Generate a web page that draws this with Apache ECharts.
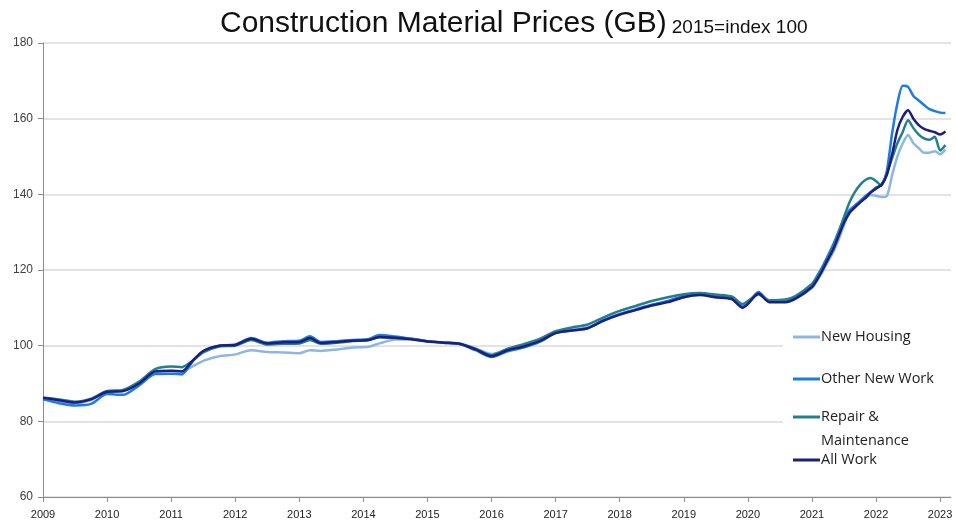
<!DOCTYPE html>
<html style="height: 100%">
<head>
<meta charset="utf-8">
<script src="https://cdn.jsdelivr.net/npm/echarts@6/dist/echarts.min.js"></script>
</head>
<body style="height: 100%; margin: 0; background: #fff">
<div id="container" style="width: 956px; height: 528px"></div>
<script type="text/javascript">
// month of each reading (quarterly early on, monthly from 2021)
var dates = [
  '2009-01','2009-04','2009-07','2009-10',
  '2010-01','2010-04','2010-07','2010-10',
  '2011-01','2011-03','2011-05','2011-07','2011-10',
  '2012-01','2012-04','2012-07','2012-10',
  '2013-01','2013-03','2013-05','2013-08','2013-11',
  '2014-02','2014-04','2014-07','2014-10',
  '2015-01','2015-04','2015-07','2015-10',
  '2016-01','2016-04','2016-07','2016-10',
  '2017-01','2017-04','2017-07','2017-10',
  '2018-01','2018-04','2018-07','2018-10',
  '2019-01','2019-04','2019-07','2019-10','2019-12',
  '2020-01','2020-03','2020-05','2020-08','2020-10',
  '2021-01','2021-02','2021-03','2021-04','2021-05','2021-06',
  '2021-07','2021-08','2021-09','2021-10','2021-11','2021-12',
  '2022-01','2022-02','2022-03','2022-04','2022-05','2022-06',
  '2022-07','2022-08','2022-09','2022-10','2022-11','2022-12',
  '2023-01','2023-02'
];

var newHousing = [
  86.0,85.4,84.8,85.6, 87.9,88.0,90.0,93.0, 93.3,93.2,94.5,96.0,97.2,
  97.7,98.8,98.3,98.2, 98.0,98.8,98.6,99.0,99.5, 99.7,100.6,101.6,101.6,
  101.1,100.8,100.6,99.3, 97.8,99.0,100.0,101.3, 103.5,104.2,104.8,106.6,
  108.2,109.5,110.7,111.6, 112.8,113.5,112.8,112.4,110.3, 111.2,113.9,111.6,111.6,112.4,
  115.2,117.2,119.6,122.2,124.8,128,131.8,135.2,137,138.2,139.2,139.8,
  139.6,139.3,139.5,145,150,153.5,155.7,153.5,152.2,151,151,151.4,
  150.6,151.8
];
var otherNewWork = [
  85.8,84.8,84.2,84.6, 87.2,87.0,89.5,92.5, 92.6,92.4,95.8,98.5,100.0,
  100.3,102.0,100.8,101.2, 101.3,102.5,101.0,101.2,101.5, 101.8,102.8,102.4,101.8,
  101.2,100.8,100.4,98.8, 97.0,98.5,99.5,101.0, 103.3,104.0,104.6,106.8,
  108.4,109.6,110.8,111.8, 113.2,113.8,113.2,112.6,110.3, 111.2,114.2,111.8,111.8,113.0,
  116.2,118.5,121,123.8,126.8,130.2,133.5,135.8,137,138.2,139.5,140.6,
  141.8,142.5,146,156,164,168.7,168.4,166,164.8,163.6,162.5,162,
  161.6,161.5
];
var repairMaint = [
  86.3,85.8,85.2,86.0, 88.0,88.3,90.5,93.8, 94.5,94.3,96.0,98.2,99.8,
  100.0,101.5,100.3,100.5, 100.6,101.5,100.5,100.8,101.2, 101.5,102.2,102.0,101.8,
  101.2,100.8,100.5,99.2, 97.5,99.2,100.4,101.8, 103.8,104.8,105.6,107.5,
  109.2,110.5,111.8,112.8, 113.6,113.9,113.5,113.0,111.0, 111.8,113.5,112.0,112.2,113.2,
  116.3,118.2,120.5,123.2,126.2,130,134,137.8,140.5,142.5,143.8,144.3,
  143.5,142.3,145.5,149.5,153.5,156.5,159.6,157.5,155.8,154.8,154.4,155.2,
  151.6,153
];
var allWork = [
  86.2,85.6,85.0,85.8, 87.8,88.0,90.0,93.2, 93.4,93.2,96.0,98.6,100.0,
  100.2,101.8,100.6,100.9, 101.0,102.0,100.7,101.0,101.3, 101.5,102.3,102.1,101.7,
  101.1,100.8,100.5,99.0, 97.2,98.8,99.8,101.2, 103.3,104.0,104.6,106.6,
  108.2,109.4,110.6,111.5, 112.8,113.4,112.8,112.3,110.0, 111.0,113.8,111.5,111.5,112.5,
  115.5,117.5,120,122.8,125.5,129,132.5,135,136.5,137.8,139,140.5,
  141.5,142.5,145,150.5,157,160.5,162.2,160,158.3,157.3,156.8,156.4,
  155.8,156.6
];

var years = [2009,2010,2011,2012,2013,2014,2015,2016,2017,2018,2019,2020,2021,2022,2023];

var toYear = function (d) {
    var p = d.split('-');
    return Number(p[0]) + (Number(p[1]) - 1) / 12;
};
var pairs = function (vals) {
    return vals.map(function (v, i) { return [toYear(dates[i]), v]; });
};

var dom = document.getElementById('container');
var myChart = echarts.init(dom);

var seriesDefs = [
    {name: 'New Housing', color: '#8db6e3', data: newHousing},
    {name: 'Other New Work', color: '#1e7ae6', data: otherNewWork},
    {name: 'Repair & Maintenance', color: '#23808a', data: repairMaint},
    {name: 'All Work', color: '#1c1f7e', data: allWork}
];

// one legend per row so the rows can sit where the original has them.
// the two-line label gets an empty first line so the swatch lines up with "Repair &"
var legendTops = [325, 367, 381, 448];
var legends = seriesDefs.map(function (s, i) {
    return {
        data: [s.name],
        left: 793,
        top: legendTops[i],
        icon: 'rect',
        itemWidth: 27,
        itemHeight: 3,
        itemGap: 0,
        padding: 0,
        selectedMode: false,
        formatter: function (name) {
            return name === 'Repair & Maintenance' ? ' \nRepair &\nMaintenance' : name;
        },
        textStyle: {
            fontFamily: 'Open Sans',
            fontSize: 14.5,
            color: '#222',
            lineHeight: 24,
            padding: [0, 0, 0, -4]
        }
    };
});

var option = {
    backgroundColor: '#fff',
    animation: false,
    title: {
        text: '{a|Construction Material Prices (GB)} {b|2015=index 100}',
        left: 215,
        top: 4,
        textStyle: {
            rich: {
                a: {fontFamily: 'Liberation Sans', fontWeight: 'normal', fontSize: 30, color: '#111'},
                b: {fontFamily: 'Liberation Sans', fontWeight: 'normal', fontSize: 19, color: '#111', padding: [8, 0, 0, 0]}
            }
        }
    },
    graphic: [{
        type: 'rect',
        left: 783,
        top: 318,
        shape: {width: 173, height: 160},
        style: {fill: '#fff'},
        z: 3
    }],
    legend: legends,
    grid: {left: 43, right: 5, top: 43, bottom: 31},
    xAxis: {
        type: 'value',
        min: 2009,
        max: 2023.17,
        interval: 1,
        axisLine: {lineStyle: {color: '#8c8c8c'}},
        axisTick: {show: true, length: 5, lineStyle: {color: '#8c8c8c'}, customValues: years},
        axisLabel: {
            customValues: years,
            formatter: function (v) { return String(Math.round(v)); },
            color: '#222',
            fontFamily: 'Liberation Sans',
            fontSize: 11,
            margin: 12
        },
        splitLine: {show: false}
    },
    yAxis: {
        type: 'value',
        min: 60,
        max: 180,
        interval: 20,
        axisLine: {show: true, lineStyle: {color: '#8c8c8c'}},
        axisTick: {show: true, length: 5, lineStyle: {color: '#8c8c8c'}},
        axisLabel: {color: '#404040', fontFamily: 'Liberation Sans', fontSize: 12, margin: 10},
        splitLine: {lineStyle: {color: '#dadada', width: 1.5}}
    },
    series: seriesDefs.map(function (s) {
        return {
            name: s.name,
            type: 'line',
            smooth: 0.25,
            showSymbol: false,
            symbol: 'none',
            color: s.color,
            lineStyle: {width: 2.5, color: s.color},
            data: pairs(s.data)
        };
    })
};

myChart.setOption(option);
window.onresize = function () {
    myChart.resize();
};
</script>
</body>
</html>
